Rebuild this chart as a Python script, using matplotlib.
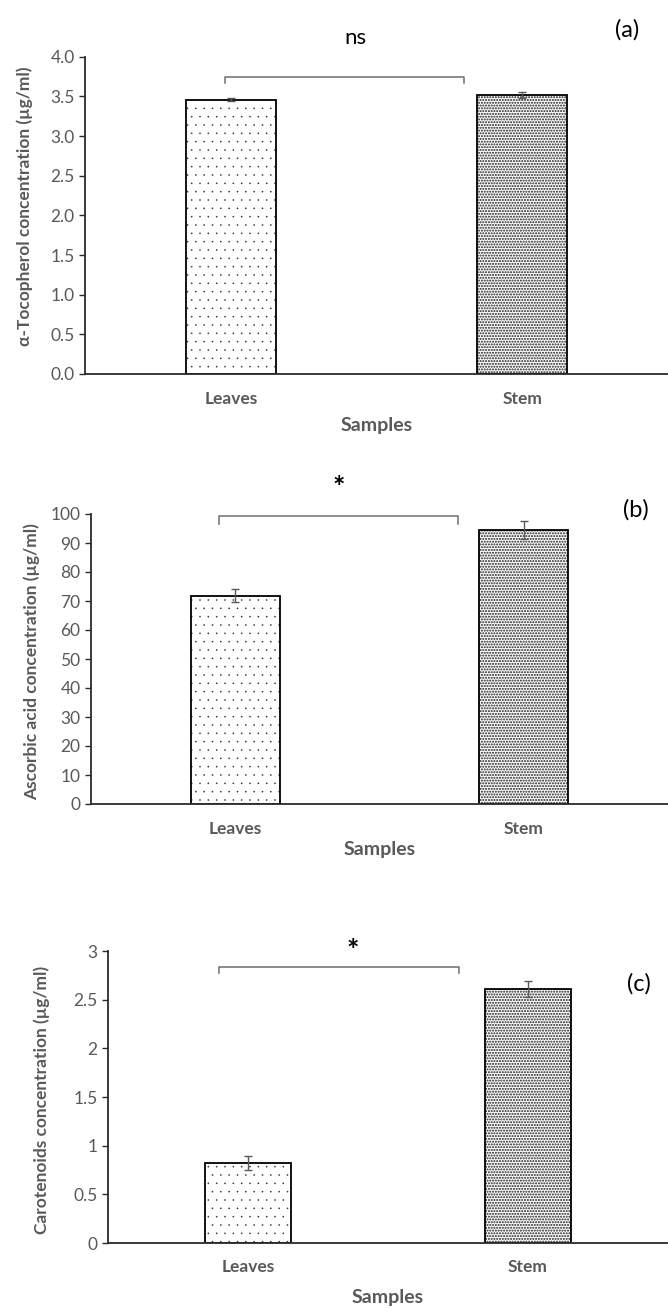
import matplotlib
matplotlib.use("Agg")
import matplotlib.pyplot as plt
import numpy as np

plt.rcParams['font.family'] = ['Lato', 'DejaVu Sans']

# ---- data ----
categories = ["Leaves", "Stem"]
toco_vals = [3.46, 3.52]
toco_err = [0.015, 0.04]
asc_vals = [71.8, 94.5]
asc_err = [2.2, 3.0]
car_vals = [0.82, 2.61]
car_err = [0.07, 0.08]
sig_labels = ["ns", "*", "*"]
panel_labels = ["(a)", "(b)", "(c)"]
ylabels = ["α-Tocopherol concentration (µg/ml)",
           "Ascorbic acid concentration (µg/ml)",
           "Carotenoids concentration (µg/ml)"]
yticks_list = [np.arange(0, 4.01, 0.5), np.arange(0, 100.1, 10), np.arange(0, 3.01, 0.5)]
ytick_fmt = ["{:.1f}", "{:.0f}", "{:g}"]

W, H = 668, 1308
fig = plt.figure(figsize=(W / 100, H / 100), dpi=100)

def box(l, t, b):
    return [l / W, 1 - b / H, 1 - l / W, (b - t) / H]

# axes positions in px: left, top(ymax), bottom(0)
px_boxes = [(85, 56.7, 374), (91, 514, 804), (108, 951, 1243)]
rects = [box(*p) for p in px_boxes]

series = [(toco_vals, toco_err), (asc_vals, asc_err), (car_vals, car_err)]
brackets = [(0.48, 1.30, 3.75, 3.67), (0.444, 1.272, 99.2, 96.7), (0.398, 1.254, 2.84, 2.77)]
sig_pos_px = [(355, 38), (339, 488), (353, 951)]
sig_size = [16, 21, 21]
panel_pos_px = [(627, 30), (636, 510), (639, 984)]
ylabel_x = [-0.104, -0.103, -0.118]
ylabel_y = [0.53, 0.49, 0.49]
xlabel_center_px = [425, 849, 1298]
xtick_center_px = [400, 830, 1268]

grey = '#595959'
axis_col = '#2b2b2b'
hatch_styles = [('..', '#333333', 0.0), ('......', '#1a1a1a', 1.0)]


def set_hlw(patch, lw):
    if hasattr(patch, 'set_hatch_linewidth'):
        patch.set_hatch_linewidth(lw)


for i, ax_rect in enumerate(rects):
    ax = fig.add_axes(ax_rect)
    vals, errs = series[i]
    x = np.array([0.5, 1.5])
    for j in range(2):
        hs, hc, hlw = hatch_styles[j]
        with plt.rc_context({'hatch.linewidth': hlw}):
            bars = ax.bar(x[j], vals[j], width=0.31, color='white', edgecolor=hc,
                          linewidth=0, hatch=hs, zorder=2)
        for p in bars:
            set_hlw(p, hlw)
        ax.bar(x[j], vals[j], width=0.31, fill=False, edgecolor='black',
               linewidth=1.3, zorder=2.5)
    ax.errorbar(x, vals, yerr=errs, fmt='none', ecolor=grey, elinewidth=1.0,
                capsize=3.2, capthick=1.0, zorder=3)
    ax.set_xlim(0, 2)
    yt = yticks_list[i]
    ax.set_ylim(0, yt[-1])
    ax.set_yticks(yt)
    ax.set_yticklabels([ytick_fmt[i].format(v) for v in yt])
    ax.set_xticks(x)
    l, t, b = px_boxes[i]
    ax.set_xticklabels(categories, fontweight='bold', fontsize=12.5, color=grey)
    ax.tick_params(axis='x', length=0, pad=(xtick_center_px[i] - b) * 0.72 - 6.5)
    ax.tick_params(axis='y', length=4.5, width=1.0, color=axis_col, labelsize=12.5,
                   labelcolor=grey, pad=3)
    for s in ['top', 'right']:
        ax.spines[s].set_visible(False)
    for s in ['left', 'bottom']:
        ax.spines[s].set_color(axis_col)
        ax.spines[s].set_linewidth(1.3)
    ax.set_ylabel(ylabels[i], fontweight='bold', fontsize=12.5, color=grey)
    ax.yaxis.set_label_coords(ylabel_x[i], ylabel_y[i])
    ax.yaxis.label.set_va('center')
    ax.set_xlabel("Samples", fontweight='bold', fontsize=14, color=grey)
    ax.xaxis.set_label_coords(0.5, -(xlabel_center_px[i] - b) / (b - t))
    ax.xaxis.label.set_va('center')

    bx0, bx1, byt, bye = brackets[i]
    ax.plot([bx0, bx0, bx1, bx1], [bye, byt, byt, bye], color='#6e6e6e', lw=1.1,
            clip_on=False, zorder=4)

    sx, sy = sig_pos_px[i]
    fig.text(sx / W, 1 - sy / H, sig_labels[i], ha='center', va='center',
             fontsize=sig_size[i], fontweight='normal' if sig_labels[i] == 'ns' else 'bold',
             color='black')
    px, py = panel_pos_px[i]
    fig.text(px / W, 1 - py / H, panel_labels[i], ha='center', va='center',
             fontsize=17, color='black')

fig.savefig("out.png", dpi=100)
